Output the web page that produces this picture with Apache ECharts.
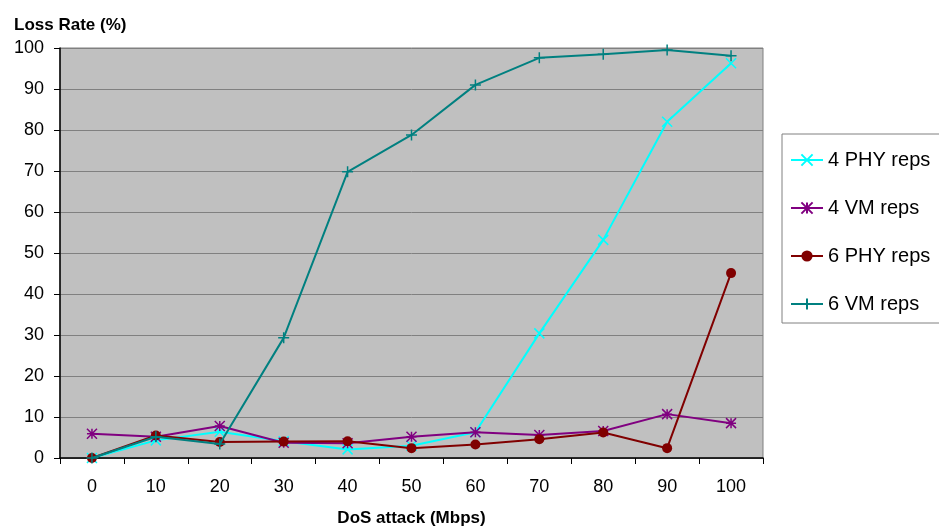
<!DOCTYPE html>
<html><head><meta charset="utf-8">
<script src="https://cdn.jsdelivr.net/npm/echarts@6/dist/echarts.min.js"></script>
<style>html,body{margin:0;padding:0;background:#fff}#c{width:939px;height:528px}</style>
</head><body><div id="c"></div>
<script>
const categories = ['0','10','20','30','40','50','60','70','80','90','100'];
const phy4 = [0, 4.3, 6.4, 4.1, 2.1, 3.0, 6.3, 30.4, 53.2, 82, 96.3];
const vm4  = [5.9, 5.2, 7.8, 3.7, 3.6, 5.2, 6.3, 5.6, 6.6, 10.7, 8.5];
const phy6 = [0, 5.5, 3.9, 4.0, 4.1, 2.4, 3.3, 4.6, 6.2, 2.4, 45.1];
const vm6  = [0, 5.2, 3.4, 29.3, 69.8, 78.8, 91, 97.6, 98.5, 99.5, 98.1];
const seriesNames = ['4 PHY reps','4 VM reps','6 PHY reps','6 VM reps'];
const yTicks = {min: 0, max: 100, interval: 10};

const FONT = '"Liberation Sans", Arial, sans-serif';
const colors = ['#00FFFF','#800080','#800000','#008080'];
const symbols = [
  'path://M0,0L10,10M10,0L0,10',
  'path://M0,0L10,10M10,0L0,10M5,0L5,10M0,5L10,5',
  'circle',
  'path://M5,0L5,10M0,5L10,5'
];
const sizes = [10, 10, 10, 11];
const datas = [phy4, vm4, phy6, vm6];

const chart = echarts.init(document.getElementById('c'), null, {renderer:'canvas'});
chart.setOption({
  animation: false,
  backgroundColor: '#ffffff',
  title: {
    text: 'Loss Rate (%)', left: 9, top: 12,
    textStyle: {fontFamily: FONT, fontSize: 17, fontWeight: 'bold', color: '#000'}
  },
  grid: {
    left: 60, right: 176, top: 48, bottom: 70,
    outerBoundsMode: 'none', containLabel: false,
    show: true, backgroundColor: '#C0C0C0', borderColor: '#808080', borderWidth: 1
  },
  legend: {
    orient: 'vertical', left: 782, top: 134,
    padding: [16, 30, 9, 8], itemGap: 28, itemWidth: 32, itemHeight: 14,
    borderColor: '#808080', borderWidth: 1, backgroundColor: '#fff',
    textStyle: {fontFamily: FONT, fontSize: 20, color: '#000'},
    data: seriesNames
  },
  xAxis: {
    type: 'category', data: categories, boundaryGap: true,
    name: 'DoS attack (Mbps)', nameLocation: 'middle', nameGap: 52,
    nameTextStyle: {fontFamily: FONT, fontSize: 17, fontWeight: 'bold', color: '#000'},
    axisLine: {lineStyle: {color: '#000', width: 1.5}},
    axisTick: {show: true, length: 6, lineStyle: {color: '#000'}},
    axisLabel: {fontFamily: FONT, fontSize: 18, color: '#000', margin: 20},
    splitLine: {show: false}
  },
  yAxis: {
    type: 'value', min: yTicks.min, max: yTicks.max, interval: yTicks.interval,
    axisLine: {show: true, lineStyle: {color: '#000', width: 1.5}},
    axisTick: {show: true, length: 6, lineStyle: {color: '#000'}},
    axisLabel: {fontFamily: FONT, fontSize: 18, color: '#000', margin: 16},
    splitLine: {show: true, lineStyle: {color: '#808080', width: 1}}
  },
  series: seriesNames.map((n, i) => ({
    name: n, type: 'line', data: datas[i],
    symbol: symbols[i], symbolSize: sizes[i], showAllSymbol: true,
    lineStyle: {color: colors[i], width: 2},
    itemStyle: {color: colors[i], borderColor: colors[i], borderWidth: i === 2 ? 0 : 1.5},
    z: [2, 3, 4, 5][i]
  }))
});
</script></body></html>
